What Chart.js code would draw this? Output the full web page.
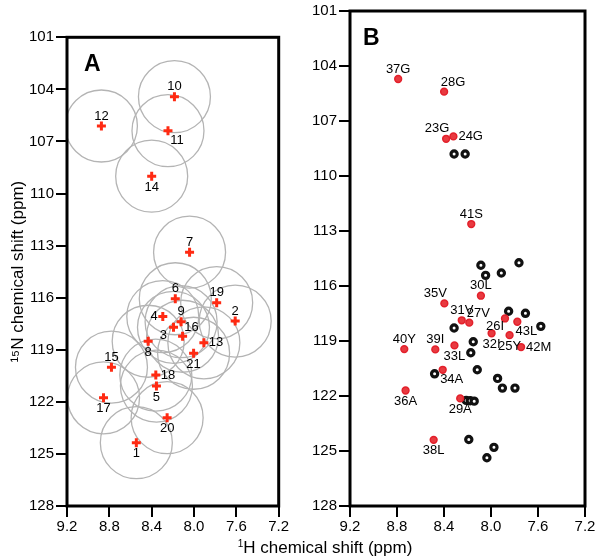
<!DOCTYPE html>
<html><head><meta charset="utf-8">
<script src="https://cdn.jsdelivr.net/npm/chart.js@4.4.1/dist/chart.umd.min.js"></script>
<style>
html,body{margin:0;padding:0;background:#fff;}
#wrap{position:relative;width:600px;height:558px;overflow:hidden;background:#fff;}
#cA{position:absolute;left:0;top:0;}
#cB{position:absolute;left:310px;top:0;}
#xt{position:absolute;left:0;width:650px;top:538px;text-align:center;font:17px 'Liberation Sans',Arial,sans-serif;color:#000;line-height:20px;}
#xt sup{font-size:10px;vertical-align:6px;line-height:0;}
</style></head>
<body>
<div id="wrap">
<canvas id="cA" width="316" height="558"></canvas>
<canvas id="cB" width="290" height="558"></canvas>
<div id="xt"><sup>1</sup>H chemical shift (ppm)</div>
</div>
<script>
// ---------- data ----------
const xTicks = [9.2, 8.8, 8.4, 8.0, 7.6, 7.2];
const yTicks = [101, 104, 107, 110, 113, 116, 119, 122, 125, 128];

// Panel A: predicted peak positions (numbered)
const aLabels = ['1','2','3','4','5','6','7','8','9','10','11','12','13','14','15','16','17','18','19','20','21'];
const aH = [8.545, 7.611, 8.194, 8.295, 8.355, 8.177, 8.042, 8.433, 8.122, 8.185, 8.246, 8.875, 7.907, 8.40, 8.78, 8.108, 8.855, 8.361, 7.786, 8.254, 8.004];
const aN = [124.35, 117.35, 117.71, 117.09, 121.09, 116.06, 113.38, 118.51, 117.38, 104.42, 106.38, 106.11, 118.60, 109.0, 120.0, 118.22, 121.77, 120.46, 116.29, 122.91, 119.2];
const aLabelSide = ['s','n','sw','w','s','n','n','s','n','n','se','n','e','s','n','ne','s','e','n','s','s'];

// Panel B: assigned peaks (red)
const bLabels = ['37G','28G','23G','24G','41S','30L','35V','31V','27V','26I','43L','32I','25Y','42M','40Y','39I','33L','34A','36A','29A','38L'];
const bH = [8.79, 8.399, 8.382, 8.32, 8.168, 8.086, 8.397, 8.249, 8.185, 7.881, 7.776, 7.995, 7.842, 7.744, 8.738, 8.474, 8.311, 8.411, 8.727, 8.262, 8.488];
const bN = [104.71, 105.40, 107.97, 107.84, 112.62, 116.53, 116.95, 117.87, 118.0, 117.77, 117.95, 118.58, 118.68, 119.33, 119.44, 119.46, 119.24, 120.57, 121.70, 122.13, 124.39];
const bLabelSide = ['n','ne','nw','e','n','n','nw','n','ne','sw','se','s','s','e','n','n','s','se','s','s','s'];

// Panel B: other peaks (black)
const kH = [8.314, 8.22, 8.086, 7.762, 7.912, 8.046, 7.85, 7.707, 7.576, 8.314, 8.151, 8.172, 8.117, 8.48, 7.944, 7.903, 7.796, 8.211, 8.177, 8.143, 8.189, 7.975, 8.035];
const kN = [108.8, 108.8, 114.87, 114.73, 115.29, 115.42, 117.38, 117.49, 118.2, 118.29, 119.04, 119.64, 120.57, 120.79, 121.04, 121.57, 121.57, 122.24, 122.26, 122.28, 124.37, 124.8, 125.37];

// ---------- rendering ----------
Chart.defaults.font.family = "'Liberation Sans', Arial, sans-serif";
Chart.defaults.color = '#000';

const pts = (xs, ys) => xs.map((x, i) => ({x: x, y: ys[i]}));

function scales(yWidth, withTitle) {
  return {
    x: {
      type: 'linear', reverse: true, min: 7.2, max: 9.2,
      afterBuildTicks: s => { s.ticks = xTicks.map(v => ({value: v})); },
      afterFit: s => { s.height = 52; },
      ticks: {callback: v => Number(v).toFixed(1), font: {size: 15}, color: '#000', padding: 1, maxRotation: 0, autoSkip: false},
      grid: {drawOnChartArea: false, tickLength: 11, color: '#000', lineWidth: 2},
      border: {display: false}
    },
    y: {
      type: 'linear', reverse: true, min: 101, max: 128,
      afterBuildTicks: s => { s.ticks = yTicks.map(v => ({value: v})); },
      afterFit: s => { s.width = yWidth; },
      ticks: {font: {size: 15}, color: '#000', padding: 2, autoSkip: false},
      grid: {drawOnChartArea: false, tickLength: 11, color: '#000', lineWidth: 2},
      border: {display: false},
      title: {display: withTitle, text: '\u00B9\u2075N chemical shift (ppm)', font: {size: 17}, color: '#000', padding: {top: 8, bottom: 0}}
    }
  };
}

const sideOffset = (side, w) => {
  switch (side) {
    case 'n': return [0, -10];
    case 's': return [0, 11];
    case 'e': return [w / 2 + 5, 0];
    case 'w': return [-(w / 2 + 5), 0];
    case 'ne': return [9, -9];
    case 'se': return [9, 10];
    case 'nw': return [-9, -10];
    case 'sw': return [-10, 8];
  }
  return [0, 0];
};

const labelPlugin = {
  id: 'peakLabels',
  afterDatasetsDraw(chart) {
    const ctx = chart.ctx;
    ctx.save();
    ctx.font = "13px 'Liberation Sans', Arial, sans-serif";
    ctx.fillStyle = '#000';
    ctx.textAlign = 'center';
    ctx.textBaseline = 'middle';
    chart.data.datasets.forEach((ds, di) => {
      if (!ds.peakLabels) return;
      const meta = chart.getDatasetMeta(di);
      meta.data.forEach((el, i) => {
        const t = ds.peakLabels[i];
        const w = ctx.measureText(t).width;
        const [dx, dy] = sideOffset(ds.peakSides[i], w);
        ctx.fillText(t, el.x + dx, el.y + dy);
      });
    });
    ctx.restore();
  }
};

const framePlugin = {
  id: 'frame',
  afterDraw(chart, args, opts) {
    const a = chart.chartArea, ctx = chart.ctx;
    ctx.save();
    ctx.strokeStyle = '#000';
    ctx.lineWidth = 3;
    ctx.strokeRect(a.left, a.top, a.right - a.left, a.bottom - a.top);
    ctx.font = "bold 23px 'Liberation Sans', Arial, sans-serif";
    ctx.fillStyle = '#000';
    ctx.textAlign = 'left';
    ctx.textBaseline = 'alphabetic';
    ctx.fillText(opts.letter, a.left + opts.dx, a.top + 34);
    ctx.restore();
  }
};

const common = {
  responsive: false, animation: false, devicePixelRatio: 1,
  events: [],
  plugins: {legend: {display: false}, tooltip: {enabled: false}}
};

new Chart(document.getElementById('cA'), {
  type: 'scatter',
  data: {
    datasets: [
      {data: pts(aH, aN), pointStyle: 'circle', pointRadius: 36, borderColor: '#b4b4b4', borderWidth: 1.3, backgroundColor: 'rgba(0,0,0,0)', order: 2},
      {data: pts(aH, aN), pointStyle: 'cross', pointRadius: 4.5, borderColor: '#ff2a12', borderWidth: 3, backgroundColor: '#ff2a12', order: 1,
       peakLabels: aLabels, peakSides: aLabelSide}
    ]
  },
  options: Object.assign({}, common, {
    layout: {padding: {left: 0, right: 15, top: 10, bottom: 0}},
    scales: scales(67, true),
    plugins: Object.assign({}, common.plugins, {frame: {letter: 'A', dx: 17}})
  }),
  plugins: [labelPlugin, framePlugin]
});

new Chart(document.getElementById('cB'), {
  type: 'scatter',
  data: {
    datasets: [
      {data: pts(kH, kN), pointStyle: 'circle', pointRadius: 3.1, borderColor: '#111', borderWidth: 3.2, backgroundColor: '#fff', order: 2},
      {data: pts(bH, bN), pointStyle: 'circle', pointRadius: 3.4, borderColor: '#e3202b', borderWidth: 1.5, backgroundColor: '#e83a40', order: 1,
       peakLabels: bLabels, peakSides: bLabelSide}
    ]
  },
  options: Object.assign({}, common, {
    layout: {padding: {left: 0, right: 15, top: 10, bottom: 0}},
    scales: scales(40, false),
    plugins: Object.assign({}, common.plugins, {frame: {letter: 'B', dx: 13}})
  }),
  plugins: [labelPlugin, framePlugin]
});
</script>
</body></html>
